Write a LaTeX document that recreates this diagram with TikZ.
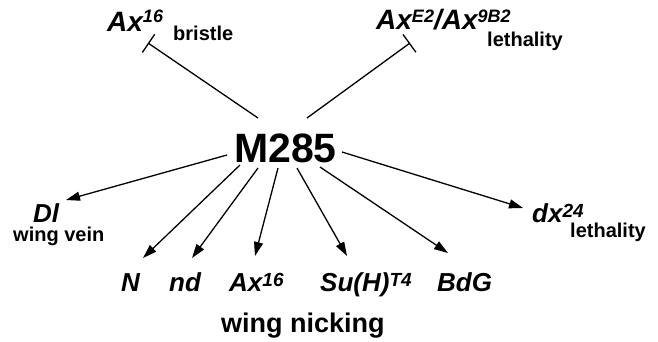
\documentclass[tikz,border=0pt]{standalone}
\usepackage{fontspec}
\setmainfont{Liberation Sans}
\usetikzlibrary{arrows.meta}
\newcommand{\gsup}[3]{\raisebox{#1}{\fontsize{#2}{#2}\selectfont #3}}
\begin{document}
\begin{tikzpicture}[x=1pt,y=-1pt,
  gene/.style={font=\fontsize{26}{26}\selectfont\bfseries\itshape, inner sep=0pt, anchor=base west},
  biggene/.style={font=\fontsize{28}{28}\selectfont\bfseries\itshape, inner sep=0pt, anchor=base west},
  note/.style={font=\fontsize{20}{20}\selectfont\bfseries, inner sep=0pt, anchor=base west},
  arr/.style={line width=1.3pt, -{Triangle[length=14pt,width=9pt]}},
  tee/.style={line width=1.3pt, -{Bar[width=22pt,line width=1.3pt]}}]
\useasboundingbox (0,0) rectangle (658,341);
% central node
\node[inner sep=0pt, anchor=base west, font=\fontsize{41}{41}\selectfont\bfseries] (m) at (234,162) {M285};
% top labels
\node[biggene] (axtl) at (107,31) {Ax\gsup{9pt}{18}{16}};
\node[note] (bristle) at (173,40) {bristle};
\node[biggene] (axtr) at (376,29) {Ax\gsup{7pt}{18}{E2}/Ax\gsup{7pt}{18}{9B2}};
\node[note] (leth1) at (487,46) {lethality};
% bottom labels
\node[gene] (dl) at (33,222) {Dl};
\node[note] (vein) at (13,241) {wing vein};
\node[gene] (n) at (121,291) {N};
\node[gene] (nd) at (169,291) {nd};
\node[gene] (ax) at (229,291) {Ax\gsup{5pt}{19}{16}};
\node[gene] (su) at (320,291) {Su(H)\gsup{5pt}{19}{T4}};
\node[gene] (bdg) at (437,291) {BdG};
\node[note, font=\fontsize{27}{27}\selectfont\bfseries] (nick) at (221,332) {wing nicking};
\node[gene] (dx) at (532,222) {dx\gsup{5pt}{19}{24}};
\node[note] (leth2) at (570,237) {lethality};
% connector end points
\coordinate (sTL) at (258,118); \coordinate (eTL) at (148,43);
\coordinate (sTR) at (307,118); \coordinate (eTR) at (410,43);
\coordinate (sDl) at (227,155); \coordinate (eDl) at (66,200);
\coordinate (sN) at (240,165);  \coordinate (eN) at (143,258);
\coordinate (sNd) at (258,168); \coordinate (eNd) at (192,258);
\coordinate (sAx) at (278,168); \coordinate (eAx) at (255,256);
\coordinate (sSu) at (297,168); \coordinate (eSu) at (347,256);
\coordinate (sBd) at (320,167); \coordinate (eBd) at (448,253);
\coordinate (sDx) at (342,152); \coordinate (eDx) at (523,208);
\draw[tee] (sTL) -- (eTL);
\draw[tee] (sTR) -- (eTR);
\draw[arr] (sDl) -- (eDl);
\draw[arr] (sN) -- (eN);
\draw[arr] (sNd) -- (eNd);
\draw[arr] (sAx) -- (eAx);
\draw[arr] (sSu) -- (eSu);
\draw[arr] (sBd) -- (eBd);
\draw[arr] (sDx) -- (eDx);
\end{tikzpicture}
\end{document}
